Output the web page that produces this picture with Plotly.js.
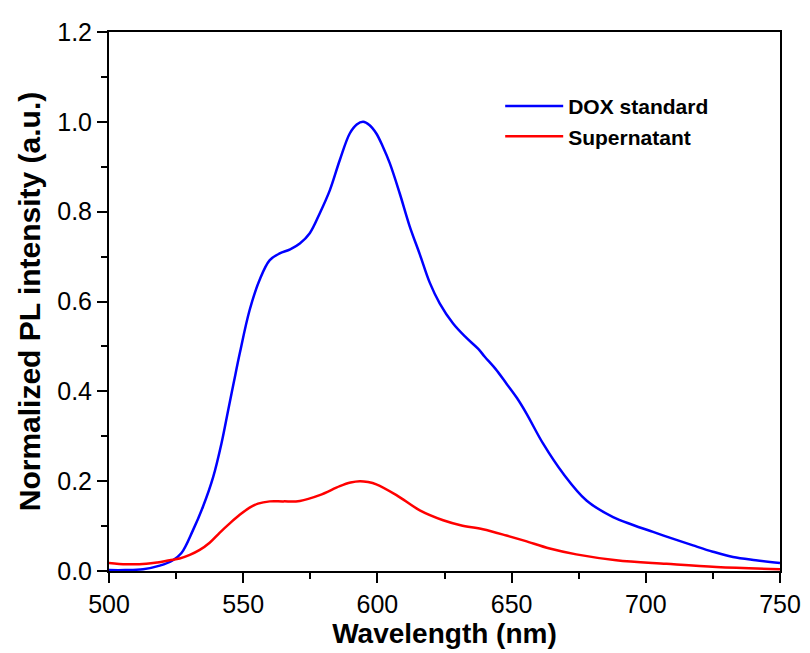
<!DOCTYPE html>
<html>
<head>
<meta charset="utf-8">
<script src="https://cdn.plot.ly/plotly-3.0.1.min.js"></script>
<style>body{margin:0;background:#fff}#chart{width:810px;height:653px}</style>
</head>
<body>
<div id="chart"></div>
<script>
const doxWavelength = [500, 506, 512.7, 518.9, 523.8, 527, 531.3, 535, 538.8, 541.9, 544.4, 546.5, 548.7, 552.4, 556.1, 559.9, 563.6, 567.5, 571.1, 574.8, 578.5, 582.3, 586, 589.7, 592.3, 594.7, 597, 599.6, 602, 604.6, 608.3, 612, 615.8, 619.5, 623.2, 628.2, 633, 637.5, 640, 644, 648.1, 652, 655.5, 661.7, 669.2, 677.9, 687.8, 695, 702.7, 710, 717.6, 725, 732.5, 741, 750];
const doxValues = [0.002, 0.002, 0.004, 0.012, 0.024, 0.04, 0.091, 0.143, 0.209, 0.284, 0.358, 0.42, 0.484, 0.581, 0.648, 0.692, 0.707, 0.716, 0.729, 0.752, 0.796, 0.848, 0.915, 0.974, 0.994, 1.0, 0.993, 0.974, 0.945, 0.908, 0.841, 0.768, 0.705, 0.642, 0.596, 0.551, 0.52, 0.495, 0.477, 0.45, 0.417, 0.385, 0.351, 0.284, 0.217, 0.157, 0.12, 0.103, 0.087, 0.072, 0.057, 0.043, 0.031, 0.024, 0.018];
const supWavelength = [500, 506.5, 513.9, 518, 522.6, 526.3, 530.1, 533.8, 537.5, 541.2, 545, 548.7, 552.4, 555.5, 559.9, 565, 571.1, 578.5, 586, 590, 593.5, 596.5, 599.6, 607.1, 615.8, 624.5, 631, 639.3, 648.1, 655, 664.2, 674.1, 689, 707.7, 726.3, 750];
const supValues = [0.018, 0.015, 0.016, 0.019, 0.024, 0.028, 0.036, 0.047, 0.063, 0.085, 0.106, 0.125, 0.141, 0.15, 0.155, 0.155, 0.156, 0.169, 0.189, 0.197, 0.2, 0.198, 0.193, 0.169, 0.135, 0.113, 0.102, 0.093, 0.079, 0.067, 0.05, 0.037, 0.024, 0.016, 0.009, 0.004];
const seriesNames = ["DOX standard", "Supernatant"];
const xTickValues = [500, 550, 600, 650, 700, 750];
const yTickValues = [0.0, 0.2, 0.4, 0.6, 0.8, 1.0, 1.2];

const FONT = "Liberation Sans, Arial, sans-serif";
const traces = [
  {x: doxWavelength, y: doxValues, name: seriesNames[0], legendgroup: "a", mode: "lines", line: {color: "#0000ff", width: 2.5, shape: "spline", smoothing: 1}},
  {x: supWavelength, y: supValues, name: seriesNames[1], legendgroup: "b", mode: "lines", line: {color: "#ff0000", width: 2.5, shape: "spline", smoothing: 1}}
];
const axisCommon = {
  showline: true, linecolor: "#000", linewidth: 2, mirror: true,
  ticks: "outside", ticklen: 10, tickwidth: 2, tickcolor: "#000",
  showgrid: false, zeroline: false,
  tickfont: {family: FONT, size: 25, color: "#000"}
};
const layout = {
  width: 810, height: 653,
  margin: {l: 109, r: 30, t: 32, b: 82},
  paper_bgcolor: "#fff", plot_bgcolor: "#fff",
  showlegend: true,
  legend: {x: 0.583, y: 0.9, xanchor: "left", yanchor: "top", bgcolor: "rgba(0,0,0,0)",
    font: {family: FONT, size: 21, color: "#000", weight: "bold"}, itemwidth: 58, tracegroupgap: 0},
  xaxis: Object.assign({}, axisCommon, {
    range: [500, 750], tickvals: xTickValues, ticktext: xTickValues.map(String),
    minor: {dtick: 25, ticks: "outside", ticklen: 6, tickwidth: 2, tickcolor: "#000", showgrid: false},
    title: {text: "<b>Wavelength (nm)</b>", font: {family: FONT, size: 28, color: "#000"}, standoff: 2}
  }),
  yaxis: Object.assign({}, axisCommon, {
    range: [0, 1.2], tickvals: yTickValues, ticktext: yTickValues.map(v => v.toFixed(1)),
    minor: {dtick: 0.1, ticks: "outside", ticklen: 6, tickwidth: 2, tickcolor: "#000", showgrid: false},
    title: {text: "<b>Normalized PL intensity (a.u.)</b>", font: {family: FONT, size: 30, color: "#000"}, standoff: 8}
  })
};
Plotly.newPlot("chart", traces, layout, {displayModeBar: false, staticPlot: true});
</script>
</body>
</html>
